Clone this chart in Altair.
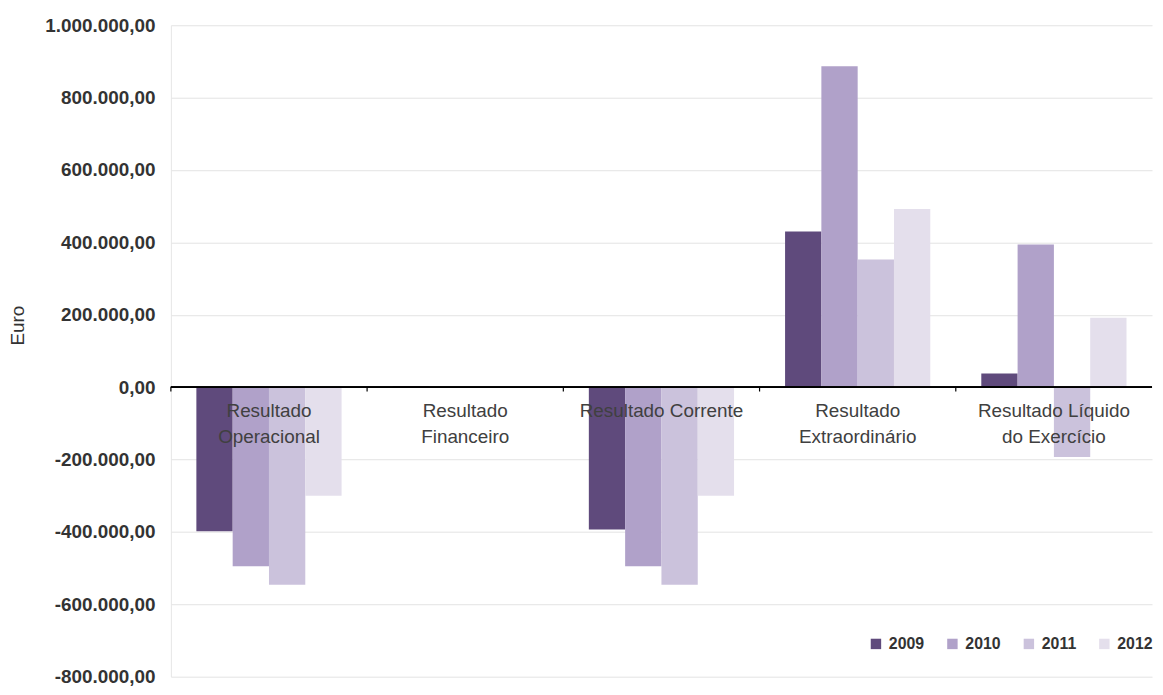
import altair as alt
import pandas as pd

categories = ["Resultado Operacional", "Resultado Financeiro", "Resultado Corrente",
              "Resultado Extraordinário", "Resultado Líquido do Exercício"]
label_lines = [["Resultado", "Operacional"], ["Resultado", "Financeiro"], ["Resultado Corrente"],
               ["Resultado", "Extraordinário"], ["Resultado Líquido", "do Exercício"]]
years = ["2009", "2010", "2011", "2012"]
v2009 = [-398000, 2500, -393000, 430000, 38000]
v2010 = [-495000, 0, -495000, 887000, 394000]
v2011 = [-546000, 0, -546000, 353000, -193000]
v2012 = [-300000, 0, -300000, 492000, 192000]
colors = ["#5f4a7c", "#b0a1c9", "#cbc2dc", "#e4dfec"]

FONT = "Arial, Liberation Sans, sans-serif"

rows = []
for yr, vals in zip(years, [v2009, v2010, v2011, v2012]):
    for c, v in zip(categories, vals):
        rows.append({"cat": c, "year": yr, "value": v})
df = pd.DataFrame(rows)
lab = pd.DataFrame({"cat": categories, "lines": label_lines, "zero": [0] * 5, "tick": [-12000] * 5})

yscale = alt.Scale(domain=[-800000, 1000000], nice=False, zero=False)
yaxis = alt.Axis(values=list(range(-800000, 1000001, 200000)), format=",.2f",
                 labelFont=FONT, labelFontSize=19, labelFontWeight="bold",
                 labelColor="#333333", titleFont=FONT, titleFontSize=19,
                 titleFontWeight="normal", titleColor="#333333",
                 titleX=-154, titleY=302, titleAngle=270, titleAlign="center",
                 titleBaseline="middle",
                 labelPadding=16, ticks=False, domain=True, domainColor="#e6e6e6",
                 gridColor="#e3e3e3", grid=True)

bars = alt.Chart(df).mark_bar().encode(
    x=alt.X("cat:N", sort=categories, axis=None,
            scale=alt.Scale(paddingInner=0.26, paddingOuter=0.13)),
    xOffset=alt.XOffset("year:N", sort=years),
    y=alt.Y("value:Q", scale=yscale, title="Euro", axis=yaxis),
    color=alt.Color("year:N", sort=years, scale=alt.Scale(domain=years, range=colors),
                    legend=alt.Legend(title=None, orient="none", legendX=702, legendY=615,
                                      direction="horizontal", symbolType="square", symbolSize=110,
                                      symbolStrokeWidth=0, labelFont=FONT,
                                      labelFontSize=16, labelFontWeight="bold",
                                      labelColor="#333333", columnPadding=20, labelOffset=5)),
)

zero_rule = alt.Chart(lab).mark_rule(color="#000000", strokeWidth=1.2).encode(
    x=alt.value(0), x2=alt.value(988), y=alt.Y("zero:Q", scale=yscale, title="Euro", axis=yaxis))

ticks = alt.Chart(lab).mark_rule(color="#000000", strokeWidth=1.2).encode(
    x=alt.X("cat:N", sort=categories, bandPosition=0, axis=None,
            scale=alt.Scale(paddingInner=0, paddingOuter=0)),
    y=alt.Y("zero:Q", scale=yscale, title="Euro", axis=yaxis), y2="tick:Q")

labels = alt.Chart(lab).mark_text(font=FONT, fontSize=19, color="#404040",
                                  baseline="top", dy=15, lineHeight=26).encode(
    x=alt.X("cat:N", sort=categories, bandPosition=0.5, axis=None,
            scale=alt.Scale(paddingInner=0, paddingOuter=0)),
    y=alt.Y("zero:Q", scale=yscale, title="Euro", axis=yaxis), text="lines")

chart = alt.layer(bars, zero_rule, ticks, labels).resolve_scale(x="independent").properties(
    width=988, height=656,
    autosize=alt.AutoSizeParams(type="none"),
    padding={"left": 164, "top": 15, "right": 3, "bottom": 8},
).configure(
    locale={"number": {"decimal": ",", "thousands": ".", "grouping": [3],
                       "currency": ["", "€"], "minus": "-"}}
).configure_view(stroke=None)

chart.save("out.html", embed_options={"renderer": "svg", "actions": False})
